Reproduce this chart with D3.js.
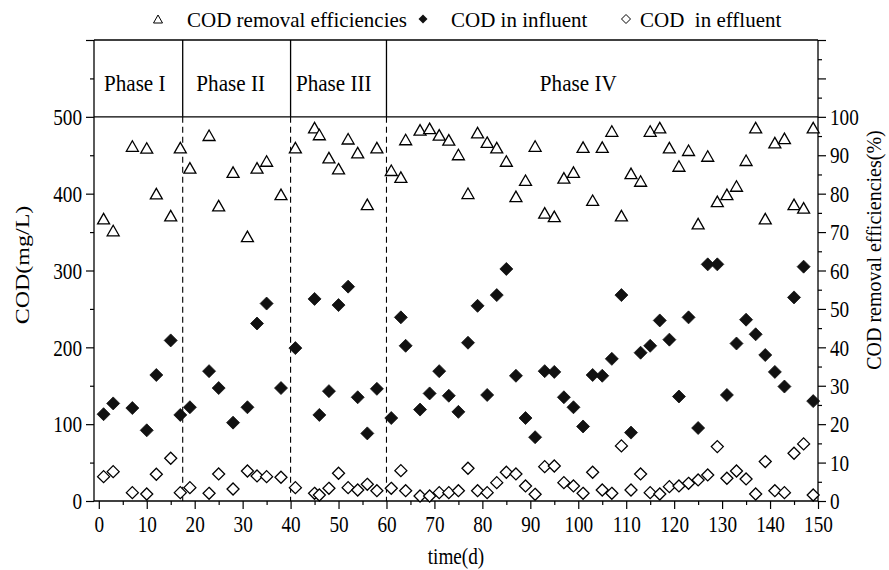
<!DOCTYPE html>
<html>
<head>
<meta charset="utf-8">
<script src="https://cdn.jsdelivr.net/npm/d3@7"></script>
<style>
  body { margin: 0; background: #fff; }
  svg { display: block; }
</style>
</head>
<body>
<svg id="chart" width="889" height="570"></svg>
<script>
// sampling days (same for all three series)
let days = [1, 3, 7, 10, 12, 15, 17, 19, 23, 25, 28, 31, 33, 35, 38,
    41, 45, 46, 48, 50, 52, 54, 56, 58,
    61, 63, 64, 67, 69, 71, 73, 75, 77, 79, 81, 83, 85, 87, 89, 91, 93, 95, 97, 99,
    101, 103, 105, 107, 109, 111, 113, 115, 117, 119, 121, 123, 125, 127, 129,
    131, 133, 135, 137, 139, 141, 143, 145, 147, 149]

// COD removal efficiencies (%)
let removal = [73.5, 70.4, 92.4, 91.9, 80.0, 74.3, 92.0, 86.7, 95.2, 76.9, 85.6, 68.9, 86.7, 88.5, 79.8,
    92.0, 97.2, 95.4, 89.4, 86.5, 94.3, 90.7, 77.2, 92.0,
    86.1, 84.3, 94.1, 96.6, 97.0, 95.3, 94.0, 90.2, 80.1, 95.9, 93.4, 92.0, 88.5, 79.3, 83.5, 92.4, 75.0, 74.1, 84.1, 85.6,
    92.1, 78.3, 92.1, 96.3, 74.3, 85.3, 83.3, 96.3, 97.2, 92.0, 87.2, 91.3, 72.2, 89.8, 78.0,
    79.8, 82.0, 88.7, 97.2, 73.5, 93.3, 94.4, 77.2, 76.3, 97.2]

// COD in influent (mg/L)
let influent = [113, 127, 121, 92, 164, 209, 112, 122, 169, 147, 102, 122, 231, 257, 147,
    199, 263, 112, 143, 255, 279, 135, 88, 146,
    108, 239, 202, 119, 140, 169, 137, 116, 206, 254, 138, 268, 302, 163, 108, 83, 169, 168, 135, 122,
    97, 164, 163, 185, 268, 89, 193, 202, 235, 210, 136, 239, 95, 308, 308,
    138, 205, 236, 217, 190, 168, 149, 265, 305, 130]

// COD in effluent (mg/L)
let effluent = [31.7, 38.2, 10.9, 9.1, 34.8, 55.6, 10.9, 17.4, 10, 35.2, 15.6, 39.1, 32.6, 31.7, 30.9,
    17.4, 10, 7.8, 16.5, 36.1, 17.4, 14.3, 21.7, 13.4,
    16.5, 39.5, 13.4, 6.5, 6.5, 10.9, 10.9, 13.4, 42.6, 13.4, 10.9, 23.9, 37.4, 35.2, 19.6, 8.7, 44.7, 45.6, 23.9, 19.6,
    10, 37.4, 14.3, 10, 71.7, 14.3, 35.2, 10.9, 9.1, 18.7, 19.6, 23, 27.4, 33.9, 70.8,
    29.6, 39.1, 28.7, 9.1, 51.3, 13.4, 10.9, 62.2, 74.3, 7.8]

// phases
let phaseBounds = [17.5, 40, 60]
let phaseNames = ['Phase I', 'Phase II', 'Phase III', 'Phase IV']
let phaseLabelDay = [7.5, 27.5, 49, 100]

let legendNames = ['COD removal efficiencies', 'COD in influent', 'COD  in effluent']

let xTicks = d3.range(0, 151, 10)
let yTicks = d3.range(0, 601, 100)
let pTicks = d3.range(0, 121, 10)

let font = "'Liberation Serif', 'Times New Roman', serif"
let SX = 0.8   // glyphs in the picture are narrow

let svg = d3.select('#chart')

let x = d3.scaleLinear().domain([-1, 150]).range([94, 818])
let y = d3.scaleLinear().domain([0, 600]).range([501, 40])
let yP = d3.scaleLinear().domain([0, 120]).range([501, 40])

// narrow text helper
let label = (str, px, py, size, opts = {}) => {
    let g = svg.append('g')
        .attr('transform', `translate(${px},${py}) scale(${opts.sx || SX},1)` + (opts.rot ? ` rotate(${opts.rot})` : ''))
    g.append('text')
        .attr('text-anchor', opts.anchor || 'middle')
        .attr('font-family', font)
        .attr('font-size', size)
        .style('white-space', 'pre')
        .text(str)
    return g
}

let styleAxis = (g, labelX) => {
    g.select('.domain').remove()
    g.selectAll('line').attr('stroke', '#000').attr('stroke-width', 1.2)
    g.selectAll('text')
        .attr('font-family', font)
        .attr('font-size', 24)
        .attr('fill', '#000')
        .attr('transform', `scale(${SX},1)`)
    if (labelX != null) g.selectAll('text').attr('x', labelX / SX)
}

// minor ticks
svg.append('g').attr('transform', `translate(0,${y(0)})`)
    .call(d3.axisBottom(x).tickValues(d3.range(5, 150, 10)).tickSize(4).tickFormat(''))
    .call(g => styleAxis(g))
svg.append('g').attr('transform', `translate(${x(-1)},0)`)
    .call(d3.axisLeft(y).tickValues(d3.range(50, 600, 100)).tickSize(4).tickFormat(''))
    .call(g => styleAxis(g))
svg.append('g').attr('transform', `translate(${x(150)},0)`)
    .call(d3.axisRight(yP).tickValues(d3.range(5, 120, 10)).tickSize(4).tickFormat(''))
    .call(g => styleAxis(g))

// major ticks
svg.append('g').attr('transform', `translate(0,${y(0)})`)
    .call(d3.axisBottom(x).tickValues(xTicks).tickSize(8).tickPadding(6))
    .call(g => styleAxis(g))
svg.append('g').attr('transform', `translate(${x(-1)},0)`)
    .call(d3.axisLeft(y).tickValues(yTicks).tickSize(8).tickFormat(d => d === 600 ? '' : d))
    .call(g => styleAxis(g, -12))
svg.append('g').attr('transform', `translate(${x(150)},0)`)
    .call(d3.axisRight(yP).tickValues(pTicks).tickSize(8).tickFormat(d => d > 100 ? '' : d))
    .call(g => styleAxis(g, 12))

// frame
let frame = svg.append('g').attr('stroke', '#000').attr('stroke-width', 1.3).attr('fill', 'none')
frame.append('line').attr('x1', x(-1)).attr('x2', x(150)).attr('y1', y(0)).attr('y2', y(0))
frame.append('line').attr('x1', x(-1)).attr('x2', x(150)).attr('y1', y(600)).attr('y2', y(600))
frame.append('line').attr('x1', x(-1)).attr('x2', x(-1)).attr('y1', y(0)).attr('y2', y(600))
frame.append('line').attr('x1', x(150)).attr('x2', x(150)).attr('y1', y(0)).attr('y2', y(600))
frame.append('line').attr('x1', x(-1)).attr('x2', x(150)).attr('y1', y(500)).attr('y2', y(500))

// phase dividers: solid in the header, dashed below
frame.selectAll('.pSolid').data(phaseBounds).enter().append('line')
    .attr('x1', d => x(d)).attr('x2', d => x(d))
    .attr('y1', y(600)).attr('y2', y(500))
frame.selectAll('.pDash').data(phaseBounds).enter().append('line')
    .attr('x1', d => x(d)).attr('x2', d => x(d))
    .attr('y1', y(500)).attr('y2', y(0))
    .attr('stroke-width', 1.1)
    .attr('stroke-dasharray', '6,4')

phaseNames.forEach((n, i) => {
    label(n, x(phaseLabelDay[i]), y(533), 24, { sx: 0.88 })
})

// markers
let triPath = (w, h) => `M0,${-h / 2}L${w / 2},${h / 2}L${-w / 2},${h / 2}Z`
let diaPath = (r) => `M0,${-r}L${r},0L0,${r}L${-r},0Z`

svg.append('g').selectAll('path')
    .data(days)
    .enter()
    .append('path')
    .attr('d', triPath(12, 10.5))
    .attr('transform', (d, i) => `translate(${x(d)},${yP(removal[i])})`)
    .attr('fill', '#fff')
    .attr('stroke', '#000')
    .attr('stroke-width', 1.3)

svg.append('g').selectAll('path')
    .data(days)
    .enter()
    .append('path')
    .attr('d', diaPath(6.5))
    .attr('transform', (d, i) => `translate(${x(d)},${y(influent[i])})`)
    .attr('fill', '#111')
    .attr('stroke', '#111')
    .attr('stroke-width', 0.8)

svg.append('g').selectAll('path')
    .data(days)
    .enter()
    .append('path')
    .attr('d', diaPath(6))
    .attr('transform', (d, i) => `translate(${x(d)},${y(effluent[i])})`)
    .attr('fill', '#fff')
    .attr('stroke', '#000')
    .attr('stroke-width', 1.3)

// axis titles
label('COD(mg/L)', 22, 265, 24, { rot: -90 }).select('text').attr('dy', '0.35em')
label('COD removal efficiencies(%)', 874, 250, 20, { rot: -90, sx: 1 }).select('text').attr('dy', '0.35em')
label('time(d)', 456, 564, 24)

// legend
let legendX = [158, 423, 626]
let legendTextX = [187, 451, 640]
svg.append('path').attr('d', triPath(9, 8)).attr('transform', `translate(${legendX[0]},19)`)
    .attr('fill', '#fff').attr('stroke', '#000').attr('stroke-width', 1)
svg.append('path').attr('d', diaPath(4.5)).attr('transform', `translate(${legendX[1]},19)`)
    .attr('fill', '#111')
svg.append('path').attr('d', diaPath(4.5)).attr('transform', `translate(${legendX[2]},19)`)
    .attr('fill', '#fff').attr('stroke', '#000').attr('stroke-width', 1)
legendNames.forEach((n, i) => {
    label(n, legendTextX[i], 27, 20, { anchor: 'start', sx: 1.05 })
})
</script>
</body>
</html>
